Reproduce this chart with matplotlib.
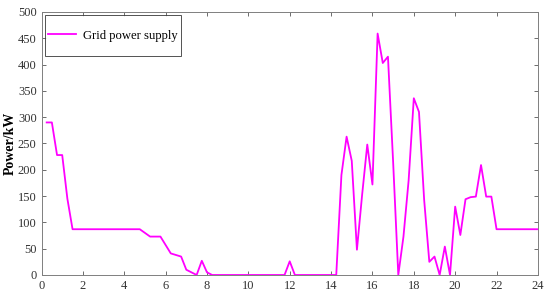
import matplotlib
matplotlib.use("Agg")
import matplotlib.pyplot as plt
from matplotlib.path import Path
import numpy as np

# time in hours, 15-min steps from 0.25 h to 24 h
hours = np.arange(1, 97) * 0.25

# grid power supply, kW
grid_power = [
    290, 290, 228, 228, 145, 87, 87, 87,          # 0.25 - 2.0
    87, 87, 87, 87, 87, 87, 87, 87,               # 2.25 - 4.0
    87, 87, 87, 80, 73, 73, 73, 57,               # 4.25 - 6.0
    41, 38, 35, 10, 5, 0, 27, 5,                  # 6.25 - 8.0
    0, 0, 0, 0, 0, 0, 0, 0,                       # 8.25 - 10.0
    0, 0, 0, 0, 0, 0, 0, 26,                      # 10.25 - 12.0
    0, 0, 0, 0, 0, 0, 0, 0,                       # 12.25 - 14.0
    0, 190, 263, 217, 48, 152, 248, 172,          # 14.25 - 16.0
    459, 403, 415, 215, 0, 73, 180, 336,          # 16.25 - 18.0
    310, 143, 25, 35, 0, 54, 0, 130,              # 18.25 - 20.0
    76, 144, 148, 149, 209, 149, 149, 87,         # 20.25 - 22.0
    87, 87, 87, 87, 87, 87, 87, 87,               # 22.25 - 24.0
]


def tall_box(x0, y0, width, height, mutation_size):
    # MATLAB legends are tight sideways but roomy top and bottom
    dy = 0.9 * mutation_size
    verts = [(x0, y0 - dy), (x0 + width, y0 - dy),
             (x0 + width, y0 + height + dy), (x0, y0 + height + dy),
             (x0, y0 - dy)]
    return Path(verts, closed=True)


plt.rcParams["font.family"] = ["Liberation Serif", "DejaVu Serif"]

fig = plt.figure(figsize=(5.5, 2.96), dpi=100)
ax = fig.add_axes([0.0755, 0.071, 0.9025, 0.8885])

ax.plot(hours, grid_power, color="#ff00ff", linewidth=1.3,
        label="Grid power supply")

ax.set_xlim(0, 24)
ax.set_ylim(0, 500)
ax.set_xticks(np.arange(0, 25, 2))
ax.set_yticks(np.arange(0, 501, 50))
ax.tick_params(direction="in", top=True, right=True, length=3,
               width=0.6, labelsize=9, colors="#555555", labelcolor="#333333")
for s in ax.spines.values():
    s.set_color("#7f7f7f")
    s.set_linewidth(0.7)

ax.set_ylabel("Power/kW", fontsize=10, fontweight="bold", labelpad=1)

leg = ax.legend(loc="upper left", fontsize=9.1, frameon=True, fancybox=False,
                borderpad=0.25, handlelength=2.2, handletextpad=0.55,
                bbox_to_anchor=(0.007, 0.945), borderaxespad=0.0)
leg.get_frame().set_boxstyle(tall_box)
leg.get_frame().set_edgecolor("#262626")
leg.get_frame().set_linewidth(0.7)

fig.savefig("out.png", dpi=100)
